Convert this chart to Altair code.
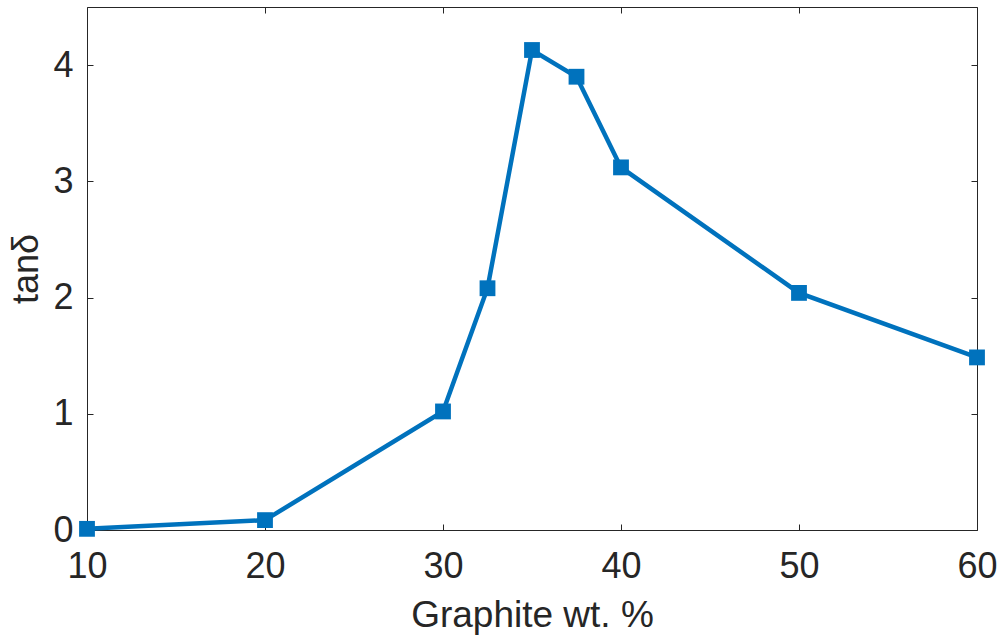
import altair as alt
import pandas as pd

# Loss tangent versus graphite loading
graphite_wt = [10, 20, 30, 32.5, 35, 37.5, 40, 50, 60]
tan_delta = [0.01, 0.085, 1.02, 2.08, 4.13, 3.90, 3.12, 2.04, 1.485]

x_ticks = [10, 20, 30, 40, 50, 60]
y_ticks = [0, 1, 2, 3, 4]

df = pd.DataFrame({"wt": graphite_wt, "tan": tan_delta})

BLUE = "#0072BD"
INK = "#262626"
FONT = "Liberation Sans"

x_scale = alt.Scale(domain=[10, 60], nice=False, zero=False)
y_scale = alt.Scale(domain=[0, 4.5], nice=False, zero=True)

# Ticks point inward: each axis is shifted into the plot by its tick length
common_axis = dict(
    grid=False, domain=False, tickSize=6, offset=-6, tickColor=INK, tickWidth=1,
    labelFont=FONT, labelFontSize=36, labelColor=INK, labelFlush=False,
    labelOverlap=False,
    titleFont=FONT, titleFontWeight="normal", titleColor=INK,
)

line = alt.Chart(df).mark_line(color=BLUE, strokeWidth=4.5).encode(
    x=alt.X("wt:Q", scale=x_scale,
            axis=alt.Axis(values=x_ticks, title="Graphite wt. %", titleFontSize=37,
                          labelPadding=19, titlePadding=13, **common_axis)),
    y=alt.Y("tan:Q", scale=y_scale,
            axis=alt.Axis(values=y_ticks, title="tanδ", titleFontSize=36,
                          labelPadding=14, titlePadding=7, **common_axis)),
)

points = alt.Chart(df).mark_point(shape="square", filled=True, size=250,
                                  color=BLUE, opacity=1).encode(
    x=alt.X("wt:Q", scale=x_scale,
            axis=alt.Axis(orient="top", values=x_ticks, labels=False, title=None,
                          grid=False, domain=False, tickSize=6, offset=-6,
                          tickColor=INK, tickWidth=1)),
    y=alt.Y("tan:Q", scale=y_scale,
            axis=alt.Axis(orient="right", values=y_ticks, labels=False, title=None,
                          grid=False, domain=False, tickSize=6, offset=-6,
                          tickColor=INK, tickWidth=1)),
)

chart = (
    alt.layer(line, points)
    .resolve_axis(x="independent", y="independent")
    .properties(
        width=890, height=523,
        padding={"left": 87, "top": 7, "right": 25, "bottom": 106},
        autosize=alt.AutoSizeParams(type="none"),
        background="white",
    )
    .configure_view(stroke=INK, strokeWidth=1)
)

chart.save("out.html", embed_options={"renderer": "svg", "actions": False})
